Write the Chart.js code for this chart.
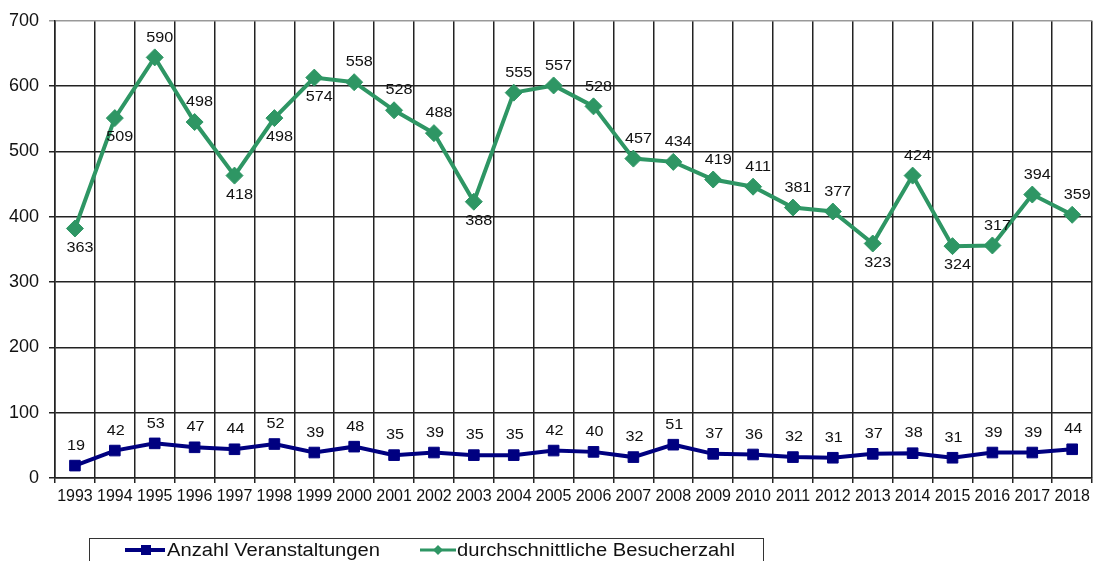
<!DOCTYPE html>
<html>
<head>
<meta charset="utf-8">
<script src="https://cdn.jsdelivr.net/npm/chart.js@4"></script>
<style>
  html, body { margin: 0; padding: 0; background: #fff; overflow: hidden; }
  canvas { display: block; }
</style>
</head>
<body>
<canvas id="besucherChart" width="1094" height="561"></canvas>
<script>
var jahre = ['1993','1994','1995','1996','1997','1998','1999','2000','2001','2002','2003','2004','2005',
             '2006','2007','2008','2009','2010','2011','2012','2013','2014','2015','2016','2017','2018'];
var veranstaltungen = [19, 42, 53, 47, 44, 52, 39, 48, 35, 39, 35, 35, 42, 40, 32, 51, 37, 36, 32, 31, 37, 38, 31, 39, 39, 44];
// plotted position of the green line
var besucherPunkte = [382, 551, 644, 545, 463, 551, 613, 606, 563, 528, 423, 590, 601, 569, 489, 484, 457, 446, 414, 408, 359, 463, 355, 356, 434, 403];
// numbers printed next to the green points
var besucherLabels = [363, 509, 590, 498, 418, 498, 574, 558, 528, 488, 388, 555, 557, 528, 457, 434, 419, 411, 381, 377, 323, 424, 324, 317, 394, 359];
var yTicks = [0, 100, 200, 300, 400, 500, 600, 700];

// label above (a) or below (b) the green point
var besucherLage = ['b','b','a','a','b','b','b','a','a','a','b','a','a','a','a','a','a','a','a','a','b','a','b','a','a','a'];

var gruen = '#2E9664';
var blau = '#000080';
var textFarbe = '#111';
var schrift = '"Liberation Sans", Arial, sans-serif';

function breiterText(ctx, text, x, y, f) {
    ctx.save();
    ctx.translate(x, y);
    ctx.scale(f, 1);
    ctx.fillText(text, 0, 0);
    ctx.restore();
}

var labelPlugin = {
    id: 'wertLabels',
    afterDatasetsDraw: function(chart) {
        var ctx = chart.ctx;
        ctx.save();
        ctx.font = '15px ' + schrift;
        ctx.fillStyle = textFarbe;
        ctx.textAlign = 'center';
        ctx.textBaseline = 'middle';
        chart.getDatasetMeta(0).data.forEach(function(pt, i) {
            breiterText(ctx, String(veranstaltungen[i]), pt.x + 1, pt.y - 20, 1.08);
        });
        chart.getDatasetMeta(1).data.forEach(function(pt, i) {
            var dy = besucherLage[i] === 'a' ? -20 : 19;
            breiterText(ctx, String(besucherLabels[i]), pt.x + 5, pt.y + dy, 1.08);
        });
        ctx.restore();
    }
};

var legendPlugin = {
    id: 'kastenLegende',
    afterDraw: function(chart) {
        var ctx = chart.ctx;
        ctx.save();
        ctx.strokeStyle = '#333';
        ctx.lineWidth = 1;
        ctx.strokeRect(89.5, 538.5, 674, 40);

        ctx.strokeStyle = blau;
        ctx.lineWidth = 4;
        ctx.beginPath(); ctx.moveTo(125, 550); ctx.lineTo(165, 550); ctx.stroke();
        ctx.fillStyle = blau;
        ctx.fillRect(141, 545, 10, 10);

        ctx.strokeStyle = gruen;
        ctx.lineWidth = 3;
        ctx.beginPath(); ctx.moveTo(420, 550); ctx.lineTo(456, 550); ctx.stroke();
        ctx.fillStyle = gruen;
        ctx.beginPath();
        ctx.moveTo(438, 545); ctx.lineTo(443, 550); ctx.lineTo(438, 555); ctx.lineTo(433, 550);
        ctx.closePath(); ctx.fill();

        ctx.fillStyle = textFarbe;
        ctx.font = '18px ' + schrift;
        ctx.textBaseline = 'middle';
        ctx.textAlign = 'left';
        breiterText(ctx, 'Anzahl Veranstaltungen', 167, 551, 1.12);
        breiterText(ctx, 'durchschnittliche Besucherzahl', 457, 551, 1.12);
        ctx.restore();
    }
};

document.addEventListener('DOMContentLoaded', function() {
    var ctx = document.getElementById('besucherChart').getContext('2d');
    var besucherChart = new Chart(ctx, {
        type: 'line',
        data: {
            labels: jahre,
            datasets: [{
                label: 'Anzahl Veranstaltungen',
                data: veranstaltungen,
                borderColor: blau,
                backgroundColor: blau,
                borderWidth: 4,
                pointStyle: 'rect',
                pointRadius: 7.5,
                pointBorderWidth: 1,
                tension: 0
            }, {
                label: 'durchschnittliche Besucherzahl',
                data: besucherPunkte,
                borderColor: gruen,
                backgroundColor: gruen,
                borderWidth: 4,
                pointStyle: 'rectRot',
                pointRadius: 8.5,
                pointBorderWidth: 1,
                tension: 0
            }]
        },
        options: {
            responsive: false,
            animation: false,
            devicePixelRatio: 1,
            layout: { autoPadding: false, padding: { top: 18, right: 1, bottom: 53, left: 0 } },
            plugins: {
                legend: { display: false },
                tooltip: { enabled: false }
            },
            scales: {
                x: {
                    offset: true,
                    grid: {
                        offset: true,
                        color: function(c) { return c.index === jahre.length ? '#999' : '#222'; },
                        lineWidth: 1.5,
                        tickLength: 5
                    },
                    border: { color: '#222', width: 1.5 },
                    ticks: {
                        color: textFarbe,
                        font: { family: schrift, size: 16 },
                        padding: 4,
                        maxRotation: 0,
                        autoSkip: false
                    },
                    afterFit: function(scale) { scale.height = 30; }
                },
                y: {
                    min: 0,
                    max: 700,
                    afterBuildTicks: function(scale) {
                        scale.ticks = yTicks.map(function(v) { return { value: v }; });
                    },
                    grid: {
                        color: function(c) { return c.tick && c.tick.value === 700 ? '#999' : '#222'; },
                        lineWidth: 1.5,
                        tickLength: 6
                    },
                    border: { color: '#222', width: 1.5 },
                    ticks: {
                        color: textFarbe,
                        font: { family: schrift, size: 18 },
                        padding: 10
                    },
                    afterFit: function(scale) { scale.width = 55; }
                }
            }
        },
        plugins: [labelPlugin, legendPlugin]
    });
});
</script>
</body>
</html>
